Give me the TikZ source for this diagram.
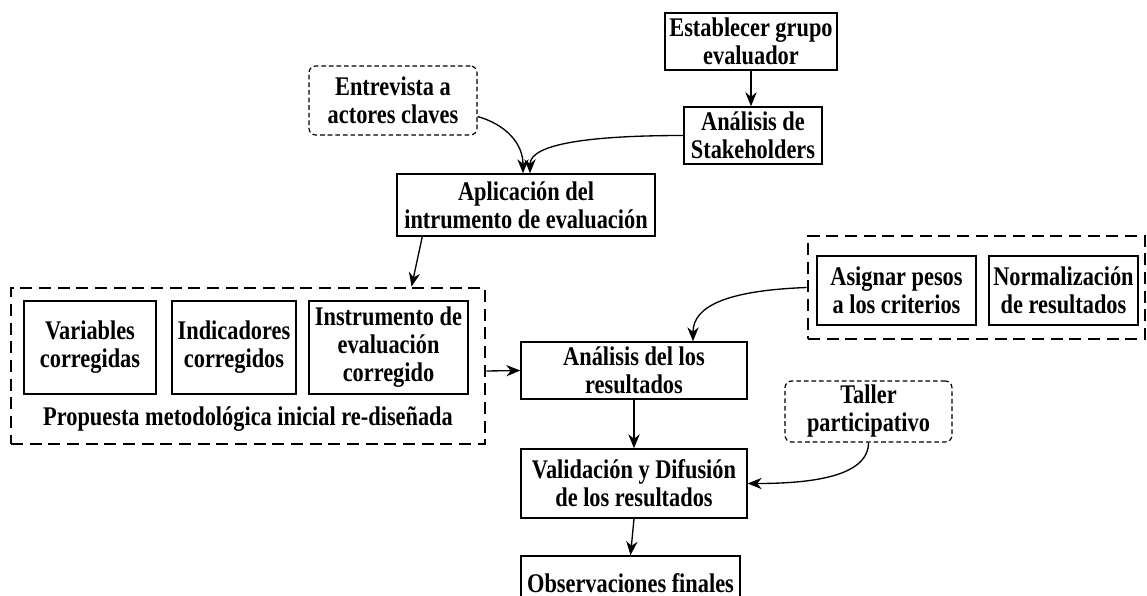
\documentclass[tikz,border=0pt]{standalone}
\usepackage{fontspec}
\setmainfont{Liberation Serif}[FakeStretch=0.83]
\usetikzlibrary{arrows.meta,calc}
\tikzset{
  sz/.style 2 args={minimum width=#1*0.75pt, minimum height=#2*0.75pt},
  txt/.style={font=\fontsize{20.2}{21}\selectfont\bfseries, align=center, inner sep=0pt},
  solidbox/.style={txt, draw, line width=1.1pt, rectangle},
  softbox/.style={txt, draw, line width=0.9pt, dash pattern=on 3.5pt off 2.2pt, rounded corners=5pt},
  groupbox/.style={draw, line width=2.2pt, dash pattern=on 9pt off 5pt, inner sep=0pt, rectangle},
  conn/.style={line width=1pt, -{Stealth[length=10.5pt,width=8.5pt]}},
}
\begin{document}
\begin{tikzpicture}[x=0.75pt, y=-0.75pt]
\useasboundingbox (0,0) rectangle (1147,596);
\clip (0,0) rectangle (1147,596);
\fill[white] (0,0) rectangle (1147,596);

\node[solidbox, sz={172}{57}] (est) at (751,41.5) {Establecer grupo\\evaluador};
\node[solidbox, sz={138}{57}] (stk) at (753,135.5) {Análisis de\\Stakeholders};
\node[softbox, sz={168}{69}] (ent) at (393,100.5) {Entrevista a\\actores claves};
\node[solidbox, sz={258}{62}] (apl) at (526,205) {Aplicación del\\intrumento de evaluación};

\node[groupbox, sz={474}{156}] (lbox) at (248,366) {};
\node[solidbox, sz={132}{93}] (var) at (90,347.5) {Variables\\corregidas};
\node[solidbox, sz={124}{93}] (ind) at (234,347.5) {Indicadores\\corregidos};
\node[solidbox, sz={159}{93}] (ins) at (388.5,347.5) {Instrumento de\\evaluación\\corregido};
\node[txt] (prop) at (248,419) {Propuesta metodológica inicial re-diseñada};

\node[solidbox, sz={226}{57}] (ana) at (634,370.5) {Análisis del los\\resultados};

\node[groupbox, sz={337}{103}] (rbox) at (976.5,287.5) {};
\node[solidbox, sz={159}{69}] (asi) at (896.5,290.5) {Asignar pesos\\a los criterios};
\node[solidbox, sz={149}{69}] (nor) at (1063.5,290.5) {Normalización\\de resultados};

\node[softbox, sz={167}{61}] (tal) at (868.5,411.5) {Taller\\participativo};
\node[solidbox, sz={226}{69}] (val) at (634,483.5) {Validación y Difusión\\de los resultados};
\node[solidbox, sz={219}{54}] (obs) at (630.5,583) {Observaciones finales};

\draw[conn] (est.south) -- (est.south |- stk.north);
\draw[conn] ($(ent.east)+(0,16)$) .. controls +(28,8) and +(0,-30) .. ($(apl.north)+(-3,0)$);
\draw[conn] (stk.west) .. controls +(-90,0) and +(0,-30) .. ($(apl.north)+(4,0)$);
\draw[conn] ($(apl.south west)+(26,0)$) -- ($(lbox.north west)+(402,0)$);
\draw[conn] ($(lbox.east)+(0,5)$) -- (ana.west);
\draw[conn] (rbox.west) .. controls +(-80,3) and +(0,-35) .. ($(ana.north)+(59,0)$);
\draw[conn] (ana.south) -- (val.north);
\draw[conn] (tal.south) .. controls +(0,35) and +(60,0) .. (val.east);
\draw[conn] (val.south) -- (obs.north);
\end{tikzpicture}
\end{document}
